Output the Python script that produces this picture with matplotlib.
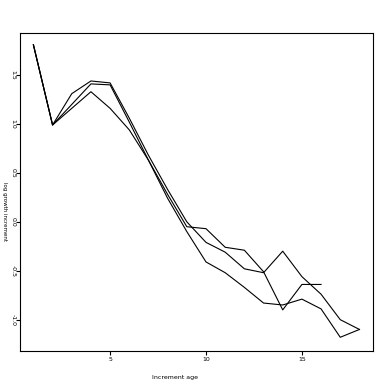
import numpy as np
import matplotlib
matplotlib.use('Agg')
import matplotlib.pyplot as plt

# increment ages and log growth increments for three series
age_a = list(range(1, 19))
inc_a = [1.81, 0.99, 1.31, 1.44, 1.42, 1.06, 0.68, 0.33, 0.00,
         -0.21, -0.31, -0.48, -0.52, -0.30, -0.56, -0.74, -1.00, -1.10]

age_b = list(range(1, 17))
inc_b = [1.81, 0.99, 1.20, 1.41, 1.40, 1.02, 0.63, 0.28, -0.05,
         -0.07, -0.26, -0.29, -0.51, -0.90, -0.64, -0.64]

age_c = list(range(1, 19))
inc_c = [1.81, 0.99, 1.16, 1.33, 1.16, 0.94, 0.63, 0.24, -0.10,
         -0.41, -0.52, -0.67, -0.83, -0.85, -0.79, -0.89, -1.18, -1.10]

xticks = [5, 10, 15]
yticks = [-1.0, -0.5, 0.0, 0.5, 1.0, 1.5]

fig = plt.figure(figsize=(3.84, 3.84), dpi=100)
ax = fig.add_axes([0.052, 0.086, 0.919, 0.828])

for x, y in [(age_a, inc_a), (age_b, inc_b), (age_c, inc_c)]:
    ax.plot(x, y, color='black', lw=0.8)

ax.set_xlim(0.3, 18.7)
ax.set_ylim(-1.32, 1.93)
ax.set_xticks(xticks)
ax.set_xticklabels([str(t) for t in xticks])
ax.set_yticks(yticks)
ax.set_yticklabels([f'{t:.1f}' for t in yticks], rotation=270, va='center')
ax.tick_params(axis='both', labelsize=4.5, length=3, width=0.8, direction='out', pad=1.5)
ax.tick_params(axis='y', pad=0.3)
for s in ax.spines.values():
    s.set_linewidth(0.8)

ax.set_xlabel('Increment age', fontsize=4.5)
ax.xaxis.set_label_coords(0.44, -0.075)
ax.set_ylabel('log growth increment', fontsize=4, rotation=270, va='center')
ax.yaxis.set_label_coords(-0.044, 0.44)

fig.savefig('out.png', dpi=100)
